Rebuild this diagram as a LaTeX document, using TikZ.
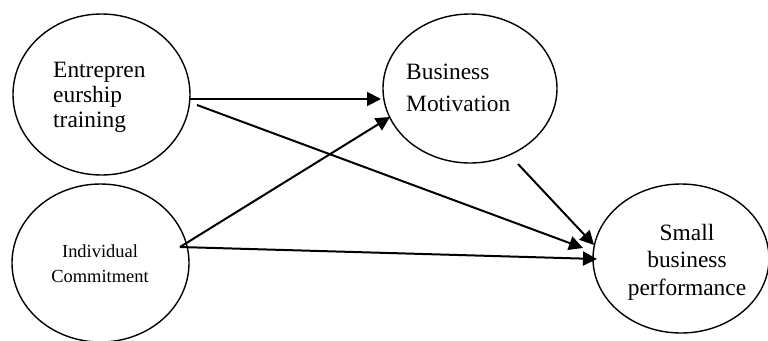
\documentclass[tikz,border=0pt]{standalone}
\usepackage{fontspec}
\setmainfont{Liberation Serif}
\usetikzlibrary{shapes.geometric,arrows.meta}
\begin{document}
\begin{tikzpicture}[x=1bp,y=-1bp,
  ell/.style={draw,ellipse,line width=1.4bp,inner sep=0pt},
  big/.style={font=\fontsize{23.5}{24}\selectfont,inner sep=0pt},
  small/.style={font=\fontsize{18.5}{19}\selectfont,inner sep=0pt},
  conn/.style={line width=2bp,-{Triangle[length=14bp,width=14bp]}}]
\useasboundingbox (0,0) rectangle (768,340);
% ellipses
\node[ell,minimum width=177bp,minimum height=161bp] (et) at (101.5,94.5) {};
\node[ell,minimum width=177bp,minimum height=158bp] (ic) at (100.5,263) {};
\node[ell,minimum width=174bp,minimum height=149bp] (bm) at (470,88.5) {};
\node[ell,minimum width=176bp,minimum height=149bp] (sb) at (681,258.5) {};
% texts
\node[big,anchor=base west] (t1) at (53,77) {Entrepren};
\node[big,anchor=base west] (t2) at (53,102) {eurship};
\node[big,anchor=base west] (t3) at (53,127) {training};
\node[small,anchor=base] (t4) at (100,257) {Individual};
\node[small,anchor=base] (t5) at (100,282) {Commitment};
\node[big,anchor=base west] (t6) at (406,79) {Business};
\node[big,anchor=base west] (t7) at (406,111) {Motivation};
\node[big,anchor=base] (t8) at (687,240) {Small};
\node[big,anchor=base] (t9) at (687,267) {business};
\node[big,anchor=base] (t10) at (687,295) {performance};
% connector end points
\coordinate (etA) at (190,99);
\coordinate (etB) at (197,105);
\coordinate (icA) at (180,247);
\coordinate (bmIn1) at (381,99);
\coordinate (bmIn2) at (390,117);
\coordinate (bmOut) at (518,164);
\coordinate (sbIn1) at (583,248);
\coordinate (sbIn2) at (597,259);
\coordinate (sbIn3) at (594,245);
% connectors
\draw[conn] (etA) -- (bmIn1);
\draw[conn] (etB) -- (sbIn1);
\draw[conn] (icA) -- (bmIn2);
\draw[conn] (icA) -- (sbIn2);
\draw[conn] (bmOut) -- (sbIn3);
\end{tikzpicture}
\end{document}
